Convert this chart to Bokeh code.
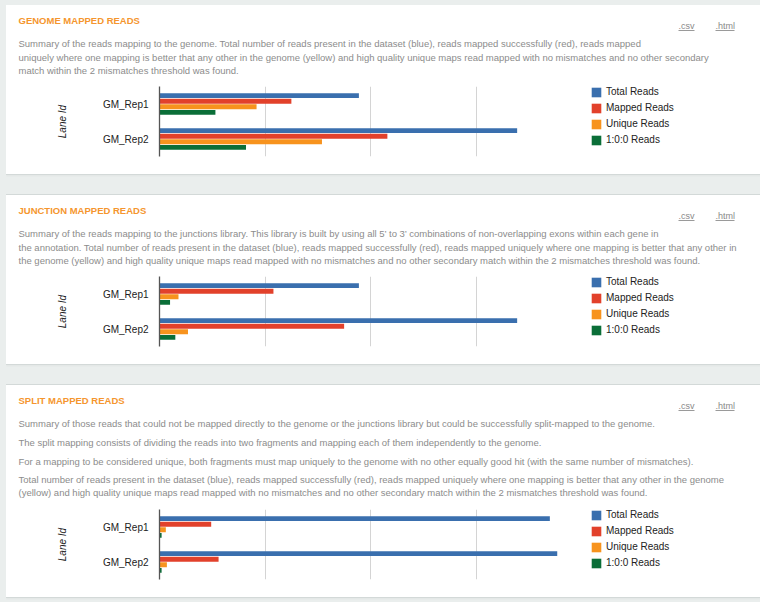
from bokeh.plotting import figure
from bokeh.layouts import column
from bokeh.models import (ColumnDataSource, FactorRange, Range1d, FixedTicker, Label,
                          Legend, LegendItem, BoxAnnotation, GlobalInlineStyleSheet)
from bokeh.transform import dodge
from bokeh.embed import file_html
from bokeh.resources import INLINE

# ---------------- data ----------------
lanes = ["GM_Rep1", "GM_Rep2"]
series_names = ["Total Reads", "Mapped Reads", "Unique Reads", "1:0:0 Reads"]
series_colors = ["#3a6fae", "#e2412b", "#f7931e", "#0a6e38"]
grid_ticks = [10, 20, 30, 40]

genome_total = [18.9, 33.9]
genome_mapped = [12.5, 21.6]
genome_unique = [9.2, 15.4]
genome_100 = [5.3, 8.2]

junction_total = [18.9, 33.9]
junction_mapped = [10.8, 17.5]
junction_unique = [1.8, 2.7]
junction_100 = [1.0, 1.5]

split_total = [37.0, 37.7]
split_mapped = [4.9, 5.6]
split_unique = [0.6, 0.7]
split_100 = [0.2, 0.2]

genome_title = "GENOME MAPPED READS"
genome_text = [
    "Summary of the reads mapping to the genome. Total number of reads present in the dataset (blue), reads mapped successfully (red), reads mapped",
    "uniquely where one mapping is better that any other in the genome (yellow) and high quality unique maps read mapped with no mismatches and no other secondary",
    "match within the 2 mismatches threshold was found.",
]
junction_title = "JUNCTION MAPPED READS"
junction_text = [
    "Summary of the reads mapping to the junctions library. This library is built by using all 5\u2019 to 3\u2019 combinations of non-overlapping exons within each gene in",
    "the annotation. Total number of reads present in the dataset (blue), reads mapped successfully (red), reads mapped uniquely where one mapping is better that any other in",
    "the genome (yellow) and high quality unique maps read mapped with no mismatches and no other secondary match within the 2 mismatches threshold was found.",
]
split_title = "SPLIT MAPPED READS"
split_text = [
    "Summary of those reads that could not be mapped directly to the genome or the junctions library but could be successfully split-mapped to the genome.",
    "The split mapping consists of dividing the reads into two fragments and mapping each of them independently to the genome.",
    "For a mapping to be considered unique, both fragments must map uniquely to the genome with no other equally good hit (with the same number of mismatches).",
    "Total number of reads present in the dataset (blue), reads mapped successfully (red), reads mapped uniquely where one mapping is better that any other in the genome",
    "(yellow) and high quality unique maps read mapped with no mismatches and no other secondary match within the 2 mismatches threshold was found.",
]
link_texts = [".csv", ".html"]

# ---------------- style ----------------
FONT = "Liberation Sans"
ORANGE = "#f5962e"
DESC = "#8c8c8c"
DARK = "#222222"
PANEL_W = 749
BAR_OFFSETS = [0.24, 0.08, -0.08, -0.24]


def make_header(title, lines, line_dy, height):
    h = figure(width=PANEL_W, height=height, x_range=Range1d(0, PANEL_W),
               y_range=Range1d(height, 0), min_border=0,
               x_axis_location=None, y_axis_location=None,
               toolbar_location=None, output_backend="svg", frame_align=False,
               background_fill_color="white", border_fill_color="white")
    h.grid.visible = False
    h.outline_line_color = None
    h.add_layout(Label(x=12, y=15, text=title, text_font=FONT, text_font_size="9.5px",
                       text_font_style="bold", text_color=ORANGE, text_baseline="middle"))
    for txt, dy in zip(lines, line_dy):
        h.add_layout(Label(x=12, y=dy, text=txt, text_font=FONT, text_font_size="9.5px",
                           text_color=DESC, text_baseline="middle"))
    for txt, x0, x1 in zip(link_texts, [672, 709], [688, 728]):
        h.add_layout(Label(x=x0, y=20, text=txt, text_font=FONT, text_font_size="9px",
                           text_color="#8a8a8a", text_baseline="middle"))
        h.add_layout(BoxAnnotation(left=x0, right=x1, top=24.5, bottom=25.5,
                                   fill_color="#9a9a9a", fill_alpha=1, line_color=None))
    return h


def make_chart(vals):
    data = {"lane": lanes}
    for i, v in enumerate(vals):
        data["s%d" % i] = v
    src = ColumnDataSource(data)

    p = figure(y_range=FactorRange(factors=lanes[::-1]), x_range=Range1d(0, 40),
               frame_width=422, frame_height=70,
               min_border_left=153, min_border_right=174,
               min_border_top=0, min_border_bottom=18,
               toolbar_location=None, output_backend="svg", frame_align=False,
               background_fill_color="white", border_fill_color="white")
    p.title.visible = False
    p.outline_line_color = None

    items = []
    for i, (name, color, off) in enumerate(zip(series_names, series_colors, BAR_OFFSETS)):
        r = p.hbar(y=dodge("lane", off, range=p.y_range), left=0, right="s%d" % i,
                   height=0.14, source=src, fill_color=color, line_color=None)
        items.append(LegendItem(label=name, renderers=[r]))

    p.xaxis.visible = False
    p.xgrid.ticker = FixedTicker(ticks=grid_ticks)
    p.xgrid.grid_line_color = "#d4d4d4"
    p.ygrid.grid_line_color = None

    ax = p.yaxis[0]
    ax.axis_line_color = "#555555"
    ax.axis_line_width = 1.3
    ax.major_tick_line_color = None
    ax.minor_tick_line_color = None
    ax.major_label_standoff = 5
    ax.major_label_text_font = FONT
    ax.major_label_text_font_size = "10px"
    ax.major_label_text_color = DARK
    ax.axis_label = "Lane Id"
    ax.axis_label_text_font = FONT
    ax.axis_label_text_font_size = "10px"
    ax.axis_label_text_font_style = "italic"
    ax.axis_label_text_color = DARK
    ax.axis_label_standoff = 32

    legend = Legend(items=items, location=(9, 10), margin=0, padding=0,
                    glyph_width=12, glyph_height=12, label_height=13, spacing=3,
                    label_standoff=4, label_text_font=FONT, label_text_font_size="10px",
                    label_text_color=DARK, border_line_color=None,
                    background_fill_alpha=0)
    p.add_layout(legend, "right")
    return p


def make_panel(title, lines, line_dy, vals, head_h):
    return column(make_header(title, lines, line_dy, head_h), make_chart(vals), spacing=0,
                  styles={"box-shadow": "0 0 0 1px #d3d9d8, 0 2px 2px rgba(0,0,0,0.04)",
                          "background-color": "white"})


p1 = make_panel(genome_title, genome_text, [38, 52, 65],
                [genome_total, genome_mapped, genome_unique, genome_100], 81)
p2 = make_panel(junction_title, junction_text, [38, 52, 65],
                [junction_total, junction_mapped, junction_unique, junction_100], 81)
p3 = make_panel(split_title, split_text, [38, 57, 76, 94, 107],
                [split_total, split_mapped, split_unique, split_100], 124)

root = column(p1, p2, p3, spacing=21)
root.stylesheets = [GlobalInlineStyleSheet(
    css="body { margin: 5px 0 0 6px; background-color: #eaeeed; }")]

open("out.html", "w").write(file_html(root, INLINE))
